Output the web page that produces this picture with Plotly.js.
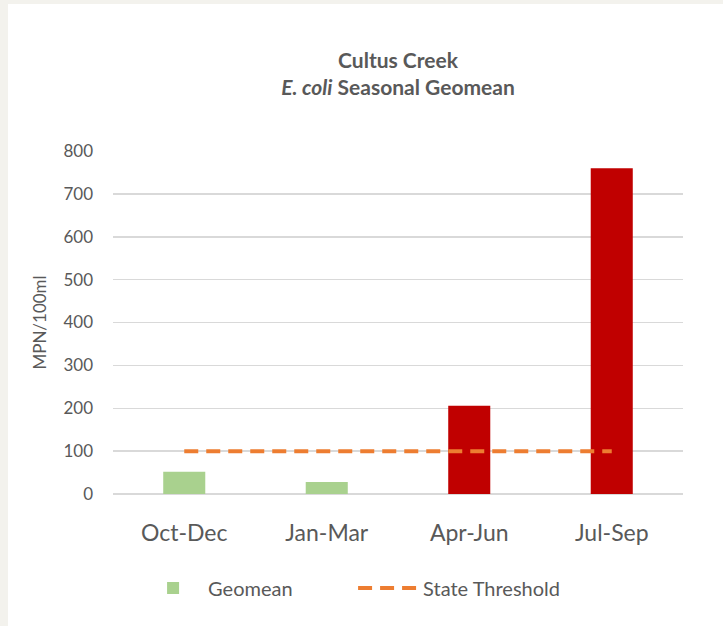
<!DOCTYPE html>
<html>
<head>
<meta charset="utf-8">
<script src="https://cdn.plot.ly/plotly-3.0.1.min.js"></script>
<style>
  html, body { margin: 0; padding: 0; background: #f3f2ed; }
  #chart { position: absolute; left: 8px; top: 4px; width: 715px; height: 622px; background: #fff; }
</style>
</head>
<body>
<div id="chart"></div>
<script>
// values
const seasons = ["Oct-Dec", "Jan-Mar", "Apr-Jun", "Jul-Sep"];
const geomean = [52, 28, 206, 760];
const threshold = [100, 100, 100, 100];
const yTicks = [0, 100, 200, 300, 400, 500, 600, 700, 800];

const textColor = "#595959";
const font = "Lato, 'Open Sans', sans-serif";

// bars above the state threshold are drawn red
const barColors = geomean.map((v, i) => v > threshold[i] ? "#C00000" : "#A9D18E");

const traces = [
    {
        type: "bar",
        x: seasons,
        y: geomean,
        name: "Geomean",
        marker: { color: barColors },
        hoverinfo: "x+y"
    },
    {
        type: "scatter",
        mode: "lines",
        x: seasons,
        y: threshold,
        name: "State Threshold",
        line: { color: "#ED7D31", width: 4, dash: "14px,8px" }
    }
];

const layout = {
    width: 715,
    height: 622,
    paper_bgcolor: "#ffffff",
    plot_bgcolor: "#ffffff",
    font: { family: font, color: textColor, size: 17 },
    title: {
        text: "<b>Cultus Creek</b><br><b><i>E. coli</i> Seasonal Geomean</b>",
        font: { family: font, size: 21, color: textColor },
        xref: "paper",
        x: 0.5,
        yref: "container",
        y: 0.897,
        yanchor: "top"
    },
    margin: { l: 105, r: 40, t: 147, b: 132 },
    bargap: 0.705,
    showlegend: true,
    legend: {
        orientation: "h",
        x: 0.044,
        xanchor: "left",
        y: -0.274,
        yanchor: "middle",
        font: { family: font, size: 20, color: textColor },
        itemwidth: 60,
        entrywidth: 140,
        traceorder: "normal"
    },
    xaxis: {
        type: "category",
        showgrid: false,
        zeroline: false,
        showline: false,
        ticks: "",
        tickfont: { family: font, size: 23, color: textColor },
        ticklabelstandoff: 23
    },
    yaxis: {
        range: [0, 800],
        tickvals: yTicks,
        showgrid: true,
        gridcolor: "#d9d9d9",
        gridwidth: 1.5,
        zeroline: true,
        zerolinecolor: "#d9d9d9",
        zerolinewidth: 1.5,
        showline: false,
        ticks: "",
        tickfont: { family: font, size: 17, color: textColor },
        ticklabelstandoff: 19,
        title: {
            text: "MPN/100ml",
            font: { family: font, size: 17, color: textColor },
            standoff: 12
        }
    }
};

Plotly.newPlot("chart", traces, layout, { displayModeBar: false, staticPlot: true });
</script>
</body>
</html>
